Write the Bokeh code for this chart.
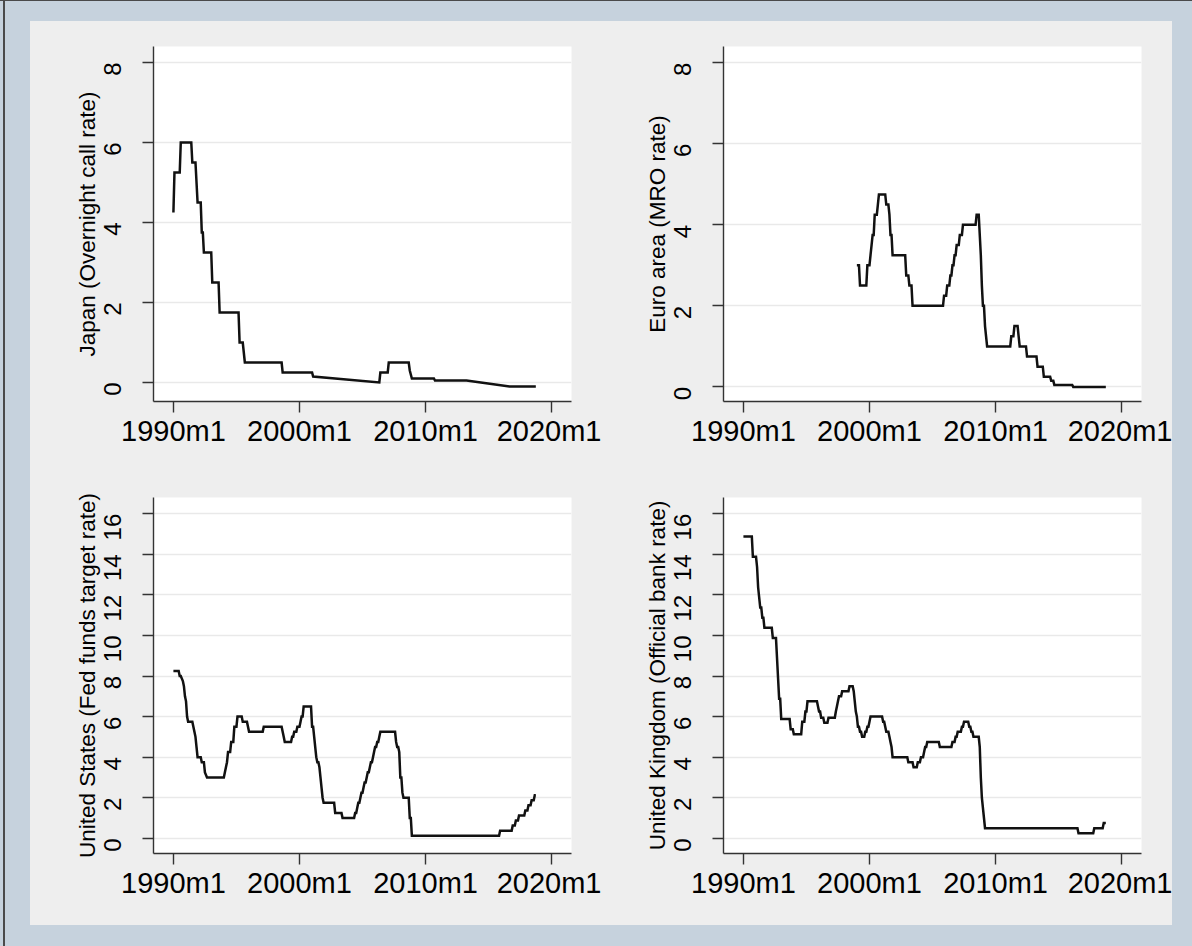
import math
from bokeh.plotting import figure
from bokeh.layouts import gridplot, column
from bokeh.models import FixedTicker
from bokeh.embed import file_html
from bokeh.resources import INLINE

# ---------------- data (monthly, Stata-style "YYYYmM") ----------------
jp_months = ["1990m1", "1990m2", "1990m7", "1990m8", "1991m6", "1991m7", "1991m10", "1991m12",
             "1992m3", "1992m4", "1992m5", "1992m6", "1993m1", "1993m2", "1993m8", "1993m9",
             "1995m3", "1995m4", "1995m7", "1995m9", "1998m8", "1998m9", "2001m1", "2001m2",
             "2006m5", "2006m6", "2007m1", "2007m2", "2008m9", "2008m10", "2008m12", "2010m9",
             "2010m10", "2013m4", "2016m9", "2018m10"]
jp_rate = [4.25, 5.25, 5.25, 6.0, 6.0, 5.5, 5.5, 4.5,
           4.5, 3.75, 3.75, 3.25, 3.25, 2.5, 2.5, 1.75,
           1.75, 1.0, 1.0, 0.5, 0.5, 0.25, 0.25, 0.15,
           0.0, 0.25, 0.25, 0.5, 0.5, 0.3, 0.1, 0.1,
           0.05, 0.05, -0.1, -0.1]

ea_months = ["1999m1", "1999m3", "1999m4", "1999m10", "1999m11", "2000m1", "2000m2", "2000m3",
             "2000m4", "2000m5", "2000m6", "2000m8", "2000m9", "2000m10", "2001m4", "2001m5",
             "2001m7", "2001m8", "2001m9", "2001m10", "2001m11", "2002m11", "2002m12", "2003m2",
             "2003m3", "2003m5", "2003m6", "2005m11", "2005m12", "2006m2", "2006m3", "2006m5",
             "2006m6", "2006m7", "2006m8", "2006m9", "2006m10", "2006m11", "2006m12", "2007m2",
             "2007m3", "2007m5", "2007m6", "2008m6", "2008m7", "2008m9", "2008m10", "2008m11",
             "2008m12", "2009m1", "2009m2", "2009m3", "2009m4", "2009m5", "2011m3", "2011m4",
             "2011m6", "2011m7", "2011m10", "2011m11", "2011m12", "2012m6", "2012m7", "2013m4",
             "2013m5", "2013m10", "2013m11", "2014m5", "2014m6", "2014m8", "2014m9", "2016m2",
             "2016m3", "2018m10"]
ea_rate = [3.0, 3.0, 2.5, 2.5, 3.0, 3.0, 3.25, 3.5,
           3.75, 3.75, 4.25, 4.25, 4.5, 4.75, 4.75, 4.5,
           4.5, 4.25, 3.75, 3.75, 3.25, 3.25, 2.75, 2.75,
           2.5, 2.5, 2.0, 2.0, 2.25, 2.25, 2.5, 2.5,
           2.75, 2.75, 3.0, 3.0, 3.25, 3.25, 3.5, 3.5,
           3.75, 3.75, 4.0, 4.0, 4.25, 4.25, 3.75, 3.25,
           2.5, 2.0, 2.0, 1.5, 1.25, 1.0, 1.0, 1.25,
           1.25, 1.5, 1.5, 1.25, 1.0, 1.0, 0.75, 0.75,
           0.5, 0.5, 0.25, 0.25, 0.15, 0.15, 0.05, 0.05,
           0.0, 0.0]

us_months = ["1990m1", "1990m6", "1990m7", "1990m8", "1990m10", "1990m11", "1990m12", "1991m1",
             "1991m2", "1991m3", "1991m7", "1991m8", "1991m9", "1991m10", "1991m11", "1991m12",
             "1992m3", "1992m4", "1992m6", "1992m7", "1992m9", "1994m1", "1994m2", "1994m3",
             "1994m4", "1994m5", "1994m7", "1994m8", "1994m10", "1994m11", "1995m1", "1995m2",
             "1995m6", "1995m7", "1995m11", "1995m12", "1996m1", "1997m2", "1997m3", "1998m8",
             "1998m9", "1998m10", "1998m11", "1999m5", "1999m6", "1999m7", "1999m8", "1999m10",
             "1999m11", "2000m1", "2000m2", "2000m3", "2000m4", "2000m5", "2000m12", "2001m1",
             "2001m2", "2001m3", "2001m4", "2001m5", "2001m6", "2001m7", "2001m8", "2001m9",
             "2001m10", "2001m11", "2001m12", "2002m10", "2002m11", "2003m5", "2003m6", "2004m5",
             "2004m6", "2004m7", "2004m8", "2004m9", "2004m10", "2004m11", "2004m12", "2005m1",
             "2005m2", "2005m3", "2005m4", "2005m5", "2005m6", "2005m7", "2005m8", "2005m9",
             "2005m10", "2005m11", "2005m12", "2006m1", "2006m2", "2006m3", "2006m4", "2006m5",
             "2006m6", "2007m8", "2007m9", "2007m10", "2007m11", "2007m12", "2008m1", "2008m2",
             "2008m3", "2008m4", "2008m9", "2008m10", "2008m11", "2008m12", "2015m11", "2015m12",
             "2016m11", "2016m12", "2017m2", "2017m3", "2017m5", "2017m6", "2017m11", "2017m12",
             "2018m2", "2018m3", "2018m5", "2018m6", "2018m8", "2018m9", "2018m10"]
us_rate = [8.25, 8.25, 8.0, 8.0, 7.75, 7.5, 7.0, 6.75,
           6.0, 5.75, 5.75, 5.5, 5.25, 5.0, 4.5, 4.0,
           4.0, 3.75, 3.75, 3.25, 3.0, 3.0, 3.25, 3.5,
           3.75, 4.25, 4.25, 4.75, 4.75, 5.5, 5.5, 6.0,
           6.0, 5.75, 5.75, 5.5, 5.25, 5.25, 5.5, 5.5,
           5.25, 5.0, 4.75, 4.75, 5.0, 5.0, 5.25, 5.25,
           5.5, 5.5, 5.75, 6.0, 6.0, 6.5, 6.5, 5.5,
           5.5, 5.0, 4.5, 4.0, 3.75, 3.75, 3.5, 3.0,
           2.5, 2.0, 1.75, 1.75, 1.25, 1.25, 1.0, 1.0,
           1.25, 1.25, 1.5, 1.75, 1.75, 2.0, 2.25, 2.25,
           2.5, 2.75, 2.75, 3.0, 3.25, 3.25, 3.5, 3.75,
           3.75, 4.0, 4.25, 4.5, 4.5, 4.75, 4.75, 5.0,
           5.25, 5.25, 4.75, 4.5, 4.5, 4.25, 3.0, 3.0,
           2.25, 2.0, 2.0, 1.0, 1.0, 0.125, 0.125, 0.375,
           0.375, 0.625, 0.625, 0.875, 0.875, 1.125, 1.125, 1.375,
           1.375, 1.625, 1.625, 1.875, 1.875, 2.125, 2.125]

uk_months = ["1990m1", "1990m9", "1990m10", "1991m1", "1991m2", "1991m3", "1991m4", "1991m5",
             "1991m6", "1991m7", "1991m8", "1991m9", "1992m4", "1992m5", "1992m8", "1992m9",
             "1992m10", "1992m11", "1992m12", "1993m1", "1993m9", "1993m10", "1993m12", "1994m1",
             "1994m8", "1994m9", "1994m11", "1994m12", "1995m1", "1995m2", "1995m11", "1995m12",
             "1996m1", "1996m2", "1996m3", "1996m5", "1996m6", "1996m9", "1996m10", "1997m4",
             "1997m5", "1997m6", "1997m7", "1997m8", "1997m10", "1997m11", "1998m5", "1998m6",
             "1998m9", "1998m10", "1998m11", "1998m12", "1999m1", "1999m2", "1999m3", "1999m4",
             "1999m5", "1999m6", "1999m8", "1999m9", "1999m10", "1999m11", "1999m12", "2000m1",
             "2000m2", "2001m1", "2001m2", "2001m3", "2001m4", "2001m5", "2001m7", "2001m8",
             "2001m9", "2001m10", "2001m11", "2003m1", "2003m2", "2003m6", "2003m7", "2003m10",
             "2003m11", "2004m1", "2004m2", "2004m4", "2004m5", "2004m6", "2004m7", "2004m8",
             "2005m7", "2005m8", "2006m7", "2006m8", "2006m10", "2006m11", "2006m12", "2007m1",
             "2007m4", "2007m5", "2007m6", "2007m7", "2007m11", "2007m12", "2008m1", "2008m2",
             "2008m3", "2008m4", "2008m9", "2008m10", "2008m11", "2008m12", "2009m1", "2009m2",
             "2009m3", "2016m7", "2016m8", "2017m10", "2017m11", "2018m7", "2018m8", "2018m10"]
uk_rate = [14.875, 14.875, 13.875, 13.875, 13.375, 12.375, 11.875, 11.375,
           11.375, 10.875, 10.875, 10.375, 10.375, 9.875, 9.875, 8.875,
           7.875, 6.875, 6.875, 5.875, 5.875, 5.375, 5.375, 5.125,
           5.125, 5.75, 5.75, 6.25, 6.25, 6.75, 6.75, 6.5,
           6.25, 6.25, 5.94, 5.94, 5.69, 5.69, 5.94, 5.94,
           6.25, 6.5, 6.75, 7.0, 7.0, 7.25, 7.25, 7.5,
           7.5, 7.25, 6.75, 6.25, 6.0, 5.5, 5.5, 5.25,
           5.25, 5.0, 5.0, 5.25, 5.25, 5.5, 5.5, 5.75,
           6.0, 6.0, 5.75, 5.75, 5.5, 5.25, 5.25, 5.0,
           4.75, 4.5, 4.0, 4.0, 3.75, 3.75, 3.5, 3.5,
           3.75, 3.75, 4.0, 4.0, 4.25, 4.5, 4.5, 4.75,
           4.75, 4.5, 4.5, 4.75, 4.75, 5.0, 5.0, 5.25,
           5.25, 5.5, 5.5, 5.75, 5.75, 5.5, 5.5, 5.25,
           5.25, 5.0, 5.0, 4.5, 3.0, 2.0, 1.5, 1.0,
           0.5, 0.5, 0.25, 0.25, 0.5, 0.5, 0.75, 0.75]

x_ticks = [1990, 2000, 2010, 2020]
x_tick_labels = ["1990m1", "2000m1", "2010m1", "2020m1"]
y_ticks_top = [0, 2, 4, 6, 8]
y_ticks_bottom = [0, 2, 4, 6, 8, 10, 12, 14, 16]

titles = ["Japan (Overnight call rate)", "Euro area (MRO rate)",
          "United States (Fed funds target rate)", "United Kingdom (Official bank rate)"]

FONT = "Liberation Sans"
PANEL = "#eeeeee"
BAND = "#c6d2dd"


def to_year(m):
    y, mm = m.split("m")
    return int(y) + (int(mm) - 1) / 12.0


def panel(months, rates, title, yticks, yrange, width, height, bl, br, bt, bb):
    p = figure(width=width, height=height, x_range=(1988.42, 2021.58), y_range=yrange,
               output_backend="svg", toolbar_location=None,
               min_border_left=bl, min_border_right=br, min_border_top=bt, min_border_bottom=bb)
    p.background_fill_color = "white"
    p.border_fill_color = PANEL
    p.outline_line_color = None
    p.line([to_year(m) for m in months], rates, line_color="#111111", line_width=2.5,
           line_join="miter")

    p.xgrid.visible = False
    p.ygrid.ticker = FixedTicker(ticks=yticks)
    p.ygrid.grid_line_color = "#e9e9e9"
    p.ygrid.grid_line_width = 1.6

    xa = p.xaxis[0]
    xa.ticker = FixedTicker(ticks=x_ticks)
    xa.major_label_overrides = {t: l for t, l in zip(x_ticks, x_tick_labels)}
    xa.major_label_text_font = FONT
    xa.major_label_text_font_size = "29px"
    xa.major_label_text_color = "black"
    xa.major_label_standoff = 2

    ya = p.yaxis[0]
    ya.ticker = FixedTicker(ticks=yticks)
    ya.major_label_orientation = math.pi / 2
    ya.major_label_text_font = FONT
    ya.major_label_text_font_size = "24px"
    ya.major_label_text_color = "black"
    ya.major_label_standoff = 30
    ya.axis_label = title
    ya.axis_label_text_font = FONT
    ya.axis_label_text_font_size = "22.5px"
    ya.axis_label_text_font_style = "normal"
    ya.axis_label_text_color = "black"
    ya.axis_label_standoff = -7

    for ax in (xa, ya):
        ax.axis_line_color = "#333333"
        ax.axis_line_width = 1.4
        ax.major_tick_line_color = "#333333"
        ax.major_tick_line_width = 1.4
        ax.major_tick_out = 11
        ax.major_tick_in = 0
        ax.minor_tick_in = 0
        ax.minor_tick_out = 0
    return p


TOP_H, BOT_H = 439, 465
p1 = panel(jp_months, jp_rate, titles[0], y_ticks_top, (-0.475, 8.4), 571, TOP_H, 123, 30, 25, 59)
p2 = panel(ea_months, ea_rate, titles[1], y_ticks_top, (-0.36, 8.4), 571, TOP_H, 122, 31, 25, 59)
p3 = panel(us_months, us_rate, titles[2], y_ticks_bottom, (-0.75, 16.8), 571, BOT_H, 123, 30, 37, 72)
p4 = panel(uk_months, uk_rate, titles[3], y_ticks_bottom, (-0.75, 16.8), 571, BOT_H, 122, 31, 37, 72)

grid = gridplot([[p1, p2], [p3, p4]], toolbar_location=None)
grid.margin = (21, 20, 21, 30)
grid.styles = {"background-color": PANEL}
page = column(grid, styles={
    "background-color": BAND,
    "box-shadow": "inset 0 1px 0 #4a4a4a, inset 3px 0 0 " + BAND + ", inset 5px 0 0 #4a4a4a",
})

open("out.html", "w").write(file_html(page, INLINE))
